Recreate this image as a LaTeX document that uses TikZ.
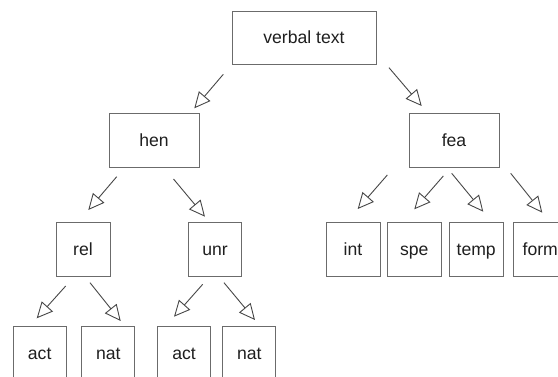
\documentclass[tikz,border=0pt]{standalone}
\usepackage{fontspec}
\setmainfont{Liberation Sans}
\usetikzlibrary{arrows.meta}
\begin{document}
\begin{tikzpicture}[x=1pt,y=-1pt,
  box/.style={draw=black!58, line width=0.9pt, fill=white, inner sep=0pt,
    minimum height=54pt, text height=13pt, text depth=1pt,
    font=\fontsize{17.6}{20}\selectfont, text=black!88},
  link/.style={draw=black!72, line width=0.9pt,
    -{Triangle[open,length=16pt,width=15pt,line width=0.9pt]}}]
\useasboundingbox (0,0) rectangle (558,376);
\clip (0,0) rectangle (558,376);
\fill[white] (0,0) rectangle (558,376);
% nodes
\node[box, minimum width=144pt, minimum height=53pt] (verbal) at (304,37.5) {verbal text};
\node[box, minimum width=90pt] (hen) at (154,140) {hen};
\node[box, minimum width=90pt] (fea) at (454,140) {fea};
\node[box, minimum width=54pt] (rel) at (83,249) {rel};
\node[box, minimum width=53pt] (unr) at (215,249) {unr};
\node[box, minimum width=54pt] (int) at (353,249) {int};
\node[box, minimum width=54pt] (spe) at (414.3,249) {spe};
\node[box, minimum width=54pt] (temp) at (476.2,249) {temp};
\node[box, minimum width=54pt] (form) at (540.3,249) {form};
\node[box, minimum width=53pt] (act1) at (39.7,353) {act};
\node[box, minimum width=53pt] (nat1) at (108.3,353) {nat};
\node[box, minimum width=53pt] (act2) at (184,353) {act};
\node[box, minimum width=53pt] (nat2) at (249.3,353) {nat};
% arrow end points
\coordinate (vh1) at (223.3,74.3);  \coordinate (vh2) at (194.3,108.3);
\coordinate (vf1) at (389,67.7);    \coordinate (vf2) at (421.7,106);
\coordinate (hr1) at (116.7,176.7); \coordinate (hr2) at (88.3,210);
\coordinate (hu1) at (173.5,179);   \coordinate (hu2) at (205,216.7);
\coordinate (ra1) at (65.7,286);    \coordinate (ra2) at (36.7,318.3);
\coordinate (rn1) at (90,282.7);    \coordinate (rn2) at (120.7,321);
\coordinate (ua1) at (202.7,284.3); \coordinate (ua2) at (174,316.7);
\coordinate (un1) at (224,282.7);   \coordinate (un2) at (255,320);
\coordinate (fi1) at (387.3,175);   \coordinate (fi2) at (357.7,209);
\coordinate (fs1) at (443.3,176);   \coordinate (fs2) at (414.3,209.3);
\coordinate (ft1) at (451.7,173.3); \coordinate (ft2) at (483.3,211.7);
\coordinate (ff1) at (510.7,173.3); \coordinate (ff2) at (542.3,212.7);
% connectors
\draw[link] (vh1) -- (vh2);
\draw[link] (vf1) -- (vf2);
\draw[link] (hr1) -- (hr2);
\draw[link] (hu1) -- (hu2);
\draw[link] (ra1) -- (ra2);
\draw[link] (rn1) -- (rn2);
\draw[link] (ua1) -- (ua2);
\draw[link] (un1) -- (un2);
\draw[link] (fi1) -- (fi2);
\draw[link] (fs1) -- (fs2);
\draw[link] (ft1) -- (ft2);
\draw[link] (ff1) -- (ff2);
\end{tikzpicture}
\end{document}
